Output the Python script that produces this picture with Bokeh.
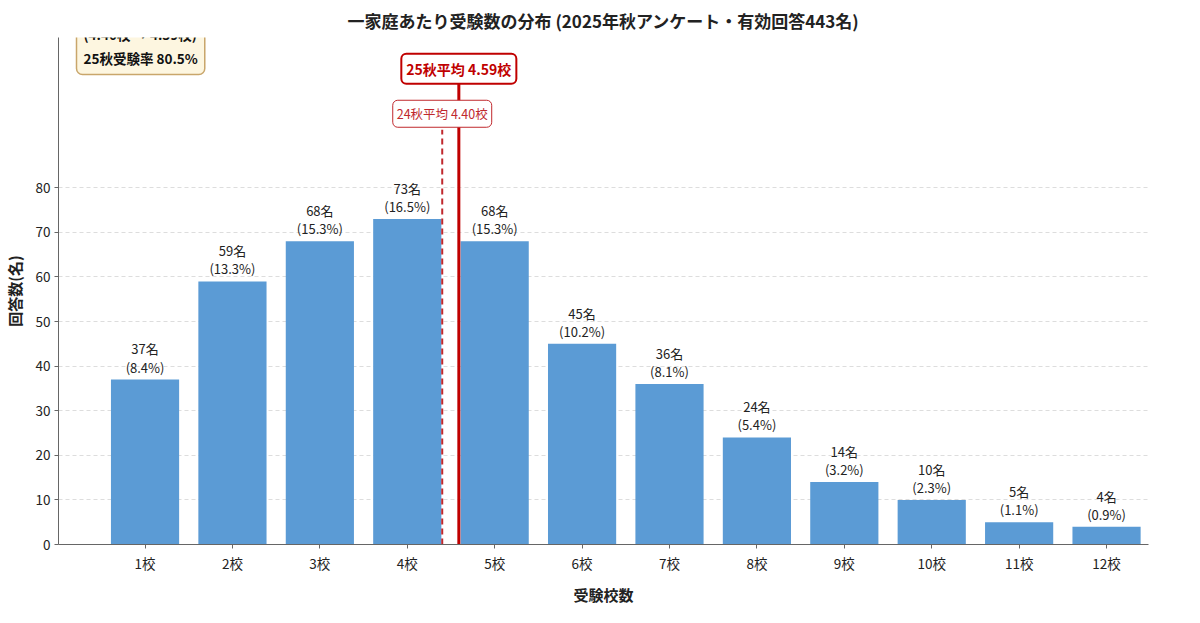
from bokeh.plotting import figure
from bokeh.models import Label, FixedTicker, Range1d, ColumnDataSource
from bokeh.core.properties import value
from bokeh.embed import file_html
from bokeh.resources import INLINE

schools = [1, 2, 3, 4, 5, 6, 7, 8, 9, 10, 11, 12]
tick_labels = [f"{s}校" for s in schools]
counts = [37, 59, 68, 73, 68, 45, 36, 24, 14, 10, 5, 4]
pcts = [8.4, 13.3, 15.3, 16.5, 15.3, 10.2, 8.1, 5.4, 3.2, 2.3, 1.1, 0.9]
mean25 = 4.59
mean24 = 4.40
FONT = "Noto Sans CJK JP"

p = figure(width=1184, height=607, output_backend="svg", toolbar_location=None,
           x_range=Range1d(0.01, 12.48), y_range=Range1d(0, 113.7),
           min_border_left=58, min_border_right=36, min_border_top=4, min_border_bottom=30)
p.title.text = "一家庭あたり受験数の分布 (2025年秋アンケート・有効回答443名)"
p.title.align = "center"
p.title.text_font = FONT
p.title.text_font_size = "17px"
p.title.text_font_style = "bold"
p.title.text_color = "#222222"
p.outline_line_color = None

src = ColumnDataSource(dict(x=schools, y=counts,
                            lab=[f"{c}名\n({q}%)" for c, q in zip(counts, pcts)]))
p.vbar(x="x", top="y", width=0.78, source=src, color="#5b9bd5", line_color=None)
p.text(x="x", y="y", text="lab", source=src, text_align="center", text_baseline="bottom",
       y_offset=-3, text_font=value(FONT), text_font_size="13px", text_color="#222222",
       text_line_height=0.95)

p.segment(x0=[mean24], y0=[0], x1=[mean24], y1=[93], line_color="#c0282d",
          line_width=2, line_dash="6 4")
p.segment(x0=[mean25], y0=[0], x1=[mean25], y1=[106], line_color="#c00000", line_width=3)

p.add_layout(Label(x=mean25, y=106.7, text=f"25秋平均 {mean25:.2f}校", text_align="center",
                   text_baseline="middle", text_font=FONT, text_font_size="14px",
                   text_font_style="bold", text_color="#c00000",
                   background_fill_color="white", border_line_color="#c00000",
                   border_line_width=2, padding=5, border_radius=5))
p.add_layout(Label(x=mean24, y=96.6, text=f"24秋平均 {mean24:.2f}校", text_align="center",
                   text_baseline="middle", text_font=FONT, text_font_size="12.5px",
                   text_color="#c0282d",
                   background_fill_color="white", border_line_color="#c0282d",
                   border_line_width=1, padding=4, border_radius=5))
p.add_layout(Label(x=18, y=470, x_units="screen", y_units="screen",
                   text="前年比 104.3%\n(4.40校 → 4.59校)\n25秋受験率 80.5%",
                   text_align="left", text_baseline="bottom", text_font=FONT,
                   text_font_size="13.5px", text_font_style="bold", text_color="#111111",
                   background_fill_color="#fdf6e0", border_line_color="#c9a66b",
                   border_line_width=1.5, padding=7, border_radius=6))

p.xaxis.ticker = FixedTicker(ticks=schools)
p.xaxis.major_label_overrides = {s: l for s, l in zip(schools, tick_labels)}
p.yaxis.ticker = FixedTicker(ticks=[0, 10, 20, 30, 40, 50, 60, 70, 80])
p.xaxis.axis_label = "受験校数"
p.yaxis.axis_label = "回答数(名)"
for ax in (p.xaxis[0], p.yaxis[0]):
    ax.axis_label_text_font = FONT
    ax.axis_label_text_font_style = "bold"
    ax.axis_label_text_font_size = "15px"
    ax.axis_label_text_color = "#222222"
    ax.major_label_text_font = FONT
    ax.major_label_text_font_size = "13.5px"
    ax.major_label_text_color = "#222222"
    ax.major_label_standoff = 4
    ax.axis_label_standoff = 8
    ax.axis_line_color = "#666666"
    ax.major_tick_line_color = "#666666"
    ax.major_tick_in = 0
    ax.major_tick_out = 4
    ax.minor_tick_line_color = None
p.xgrid.grid_line_color = None
p.ygrid.grid_line_color = "#dddddd"
p.ygrid.grid_line_dash = "4 3"

open("out.html", "w").write(file_html(p, INLINE))
